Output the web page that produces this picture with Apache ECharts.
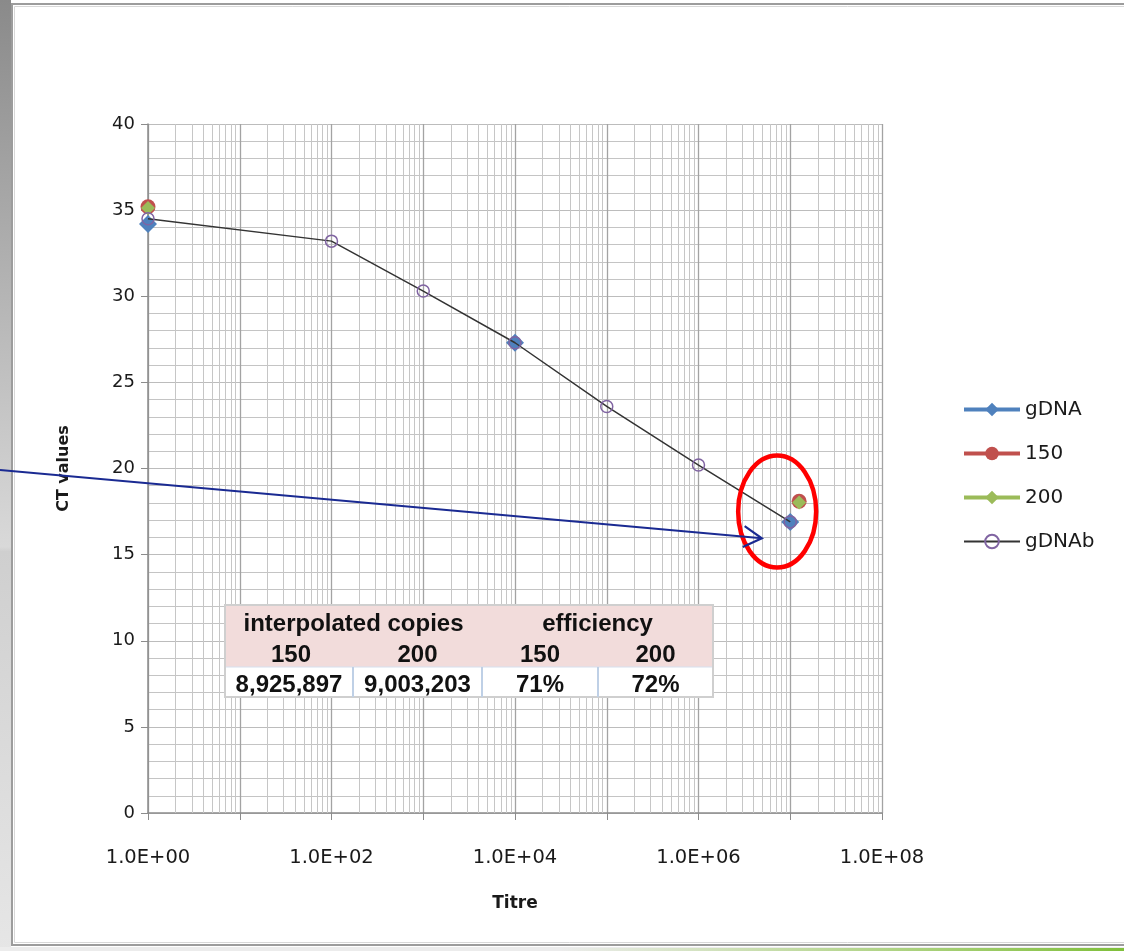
<!DOCTYPE html>
<html><head><meta charset="utf-8">
<script src="https://cdn.jsdelivr.net/npm/echarts/dist/echarts.min.js"></script>
<style>html,body{margin:0;padding:0;background:#fff;}#c{width:1124px;height:951px;}</style>
</head><body><div id="c"></div>
<script>
// ---- data ----
const seriesNames = ['gDNA', '150', '200', 'gDNAb'];
const titreA = [1, 1e4, 1e7];
const ctA = [34.2, 27.3, 16.9];
const titre150 = [1, 1.25e7];
const ct150 = [35.2, 18.1];
const titre200 = [1, 1.25e7];
const ct200 = [35.12, 18.03];
const titreB = [1, 1e2, 1e3, 1e4, 1e5, 1e6, 1e7];
const ctB = [34.5, 33.2, 30.3, 27.3, 23.6, 20.2, 16.9];
const xTickLabels = ['1.0E+00', '1.0E+02', '1.0E+04', '1.0E+06', '1.0E+08'];
const tableHeader1 = ['interpolated copies', 'efficiency'];
const tableHeader2 = ['150', '200', '150', '200'];
const tableValues = ['8,925,897', '9,003,203', '71%', '72%'];

const colors = { gDNA: '#4f81bd', s150: '#c0504d', s200: '#9bbb59', gDNAb: '#8064a2' };
const pair = (xs, ys) => xs.map((x, i) => [x, ys[i]]);

// minor log grid lines (2..9 within each decade)
const minorX = [];
for (let n = 0; n < 8; n++) for (let k = 2; k <= 9; k++) minorX.push({ xAxis: k * Math.pow(10, n) });

const chart = echarts.init(document.getElementById('c'));
const axisFont = 'DejaVu Sans';

const option = {
  backgroundColor: '#ffffff',
  animation: false,
  grid: { left: 148, top: 124, right: 242, bottom: 138, containLabel: false },
  xAxis: {
    type: 'log', logBase: 10, min: 1, max: 1e8,
    name: 'Titre', nameLocation: 'middle', nameGap: 82,
    nameTextStyle: { fontFamily: axisFont, fontWeight: 'bold', fontSize: 17, color: '#1a1a1a' },
    axisLine: { show: true, lineStyle: { color: '#8c8c8c', width: 1.5 } },
    axisTick: { show: true, length: 7, lineStyle: { color: '#8c8c8c' } },
    axisLabel: {
      margin: 35, fontFamily: axisFont, fontSize: 19.5, color: '#1a1a1a',
      formatter: v => { const e = Math.round(Math.log10(v)); return e % 2 === 0 ? xTickLabels[e / 2] : ''; }
    },
    splitLine: { show: true, lineStyle: { color: '#a3a3a3', width: 1.3 } }
  },
  yAxis: {
    type: 'value', min: 0, max: 40, interval: 5,
    name: 'CT values', nameLocation: 'middle', nameGap: 76, nameRotate: 90,
    nameTextStyle: { fontFamily: axisFont, fontWeight: 'bold', fontSize: 16, color: '#1a1a1a' },
    axisLine: { show: true, lineStyle: { color: '#8c8c8c', width: 1.5 } },
    axisTick: { show: true, length: 7, lineStyle: { color: '#8c8c8c' } },
    axisLabel: { margin: 13, fontFamily: axisFont, fontSize: 18, color: '#1a1a1a', padding: [4, 0, 0, 0] },
    splitLine: { show: true, lineStyle: { color: '#bcbcbc', width: 1 } },
    minorTick: { show: false, splitNumber: 5 },
    minorSplitLine: { show: true, lineStyle: { color: '#c4c4c4', width: 1 } }
  },
  legend: {
    orient: 'vertical', left: 962, top: 398, padding: 0,
    itemWidth: 56, itemHeight: 17, itemGap: 21,
    textStyle: { fontFamily: axisFont, fontSize: 20, lineHeight: 23, color: '#1a1a1a' },
    data: [
      { name: 'gDNA', lineStyle: { width: 4, color: colors.gDNA, opacity: 1 } },
      { name: '150', lineStyle: { width: 4, color: colors.s150, opacity: 1 } },
      { name: '200', lineStyle: { width: 4, color: colors.s200, opacity: 1 } },
      { name: 'gDNAb' }
    ]
  },
  series: [
    {
      name: '_grid', type: 'line', data: [], silent: true, z: 1,
      markLine: {
        silent: true, symbol: ['none', 'none'], label: { show: false }, animation: false, z: 1,
        lineStyle: { color: '#c6c6c6', width: 1, type: 'solid' },
        emphasis: { disabled: true },
        data: minorX
      }
    },
    {
      name: 'gDNA', type: 'line', data: pair(titreA, ctA), z: 3,
      symbol: 'diamond', symbolSize: 18,
      itemStyle: { color: colors.gDNA },
      lineStyle: { width: 0, opacity: 0, color: colors.gDNA }
    },
    {
      name: '150', type: 'line', data: pair(titre150, ct150), z: 3,
      symbol: 'circle', symbolSize: 15,
      itemStyle: { color: colors.s150 },
      lineStyle: { width: 0, opacity: 0, color: colors.s150 }
    },
    {
      name: '200', type: 'line', data: pair(titre200, ct200), z: 3,
      symbol: 'diamond', symbolSize: 14,
      itemStyle: { color: colors.s200 },
      lineStyle: { width: 0, opacity: 0, color: colors.s200 }
    },
    {
      name: 'gDNAb', type: 'line', data: pair(titreB, ctB), z: 4,
      symbol: 'circle', symbolSize: 12,
      itemStyle: { color: 'rgba(255,255,255,0)', borderColor: colors.gDNAb, borderWidth: 1.5 },
      lineStyle: { width: 1.5, color: '#333333' }
    }
  ]
};
chart.setOption(option);

// ---- overlays ----
const tipPx = chart.convertToPixel({ gridIndex: 0 }, [4.9e6, 15.95]);
const ellPx = chart.convertToPixel({ gridIndex: 0 }, [7.2e6, 17.5]);
const startY = 470;
const ang = Math.atan2(tipPx[1] - startY, tipPx[0]);
const headLen = 21, headAng = Math.PI / 6;
const h1 = [tipPx[0] - headLen * Math.cos(ang + headAng), tipPx[1] - headLen * Math.sin(ang + headAng)];
const h2 = [tipPx[0] - headLen * Math.cos(ang - headAng), tipPx[1] - headLen * Math.sin(ang - headAng)];

// table geometry
const tX = 225, tY = 605, tW = 488;
const colX = [225, 353, 482, 598, 713];
const tFont = 'bold 24px "Liberation Sans", Arial, sans-serif';
const tableEls = [
  { type: 'rect', z: 60, shape: { x: tX, y: tY, width: tW, height: 62 }, style: { fill: '#f2dcdb' } },
  { type: 'rect', z: 60, shape: { x: tX, y: tY + 62, width: tW, height: 30 }, style: { fill: '#ffffff' } },
  { type: 'line', z: 61, shape: { x1: tX, y1: tY + 62, x2: tX + tW, y2: tY + 62 }, style: { stroke: '#d6e0ee', lineWidth: 1 } },
  { type: 'rect', z: 61, shape: { x: tX, y: tY, width: tW, height: 92 }, style: { fill: 'none', stroke: '#cfcfcf', lineWidth: 2 } }
];
[1, 2, 3].forEach(i => tableEls.push({ type: 'line', z: 61, shape: { x1: colX[i], y1: tY + 62, x2: colX[i], y2: tY + 92 }, style: { stroke: '#bfd0e6', lineWidth: 2 } }));
const txt = (t, x, y) => ({ type: 'text', z: 62, style: { text: t, x: x, y: y, font: tFont, fill: '#111', stroke: null, lineWidth: 0, align: 'center', verticalAlign: 'middle' } });
tableHeader1.forEach((t, i) => tableEls.push(txt(t, (colX[i * 2] + colX[i * 2 + 2]) / 2, tY + 19)));
tableHeader2.forEach((t, i) => tableEls.push(txt(t, (colX[i] + colX[i + 1]) / 2 + (i === 0 ? 2 : 0), tY + 50)));
tableValues.forEach((t, i) => tableEls.push(txt(t, (colX[i] + colX[i + 1]) / 2, tY + 80)));

const frameEls = [
  { type: 'rect', z: 0, silent: true, shape: { x: 0, y: 0, width: 11, height: 951 },
    style: { fill: new echarts.graphic.LinearGradient(0, 0, 0, 1, [
      { offset: 0, color: '#8a8a8a' }, { offset: 0.575, color: '#d9d9d9' },
      { offset: 0.58, color: '#cfcfcf' }, { offset: 1, color: '#e6e6e6' }]) } },
  { type: 'rect', z: 0, silent: true, shape: { x: 0, y: 947, width: 1124, height: 4 }, style: { fill: '#ececec' } },
  { type: 'rect', z: 0, silent: true, shape: { x: 560, y: 948, width: 564, height: 3 },
    style: { fill: new echarts.graphic.LinearGradient(0, 0, 1, 0, [
      { offset: 0, color: 'rgba(140,198,63,0)' }, { offset: 1, color: '#7fbf3a' }]) } },
  { type: 'rect', z: 0, silent: true, shape: { x: 12, y: 4, width: 1200, height: 941 }, style: { fill: 'none', stroke: '#9c9c9c', lineWidth: 2 } },
  { type: 'rect', z: 0, silent: true, shape: { x: 14.5, y: 6.5, width: 1200, height: 936 }, style: { fill: 'none', stroke: '#d8d8d8', lineWidth: 1 } }
];

chart.setOption({
  graphic: [].concat(frameEls, tableEls.map(e => Object.assign({ silent: true }, e)), [
    { type: 'ellipse', z: 100, silent: true, shape: { cx: ellPx[0], cy: ellPx[1], rx: 39, ry: 56 }, style: { fill: 'none', stroke: '#ff0000', lineWidth: 4.5 } },
    { type: 'line', z: 100, silent: true, shape: { x1: 0, y1: startY, x2: tipPx[0], y2: tipPx[1] }, style: { stroke: '#1a2a92', lineWidth: 2 } },
    { type: 'polyline', z: 100, silent: true, shape: { points: [h1, tipPx, h2] }, style: { fill: 'none', stroke: '#1a2a92', lineWidth: 2.2 } }
  ])
});
</script>
</body></html>
